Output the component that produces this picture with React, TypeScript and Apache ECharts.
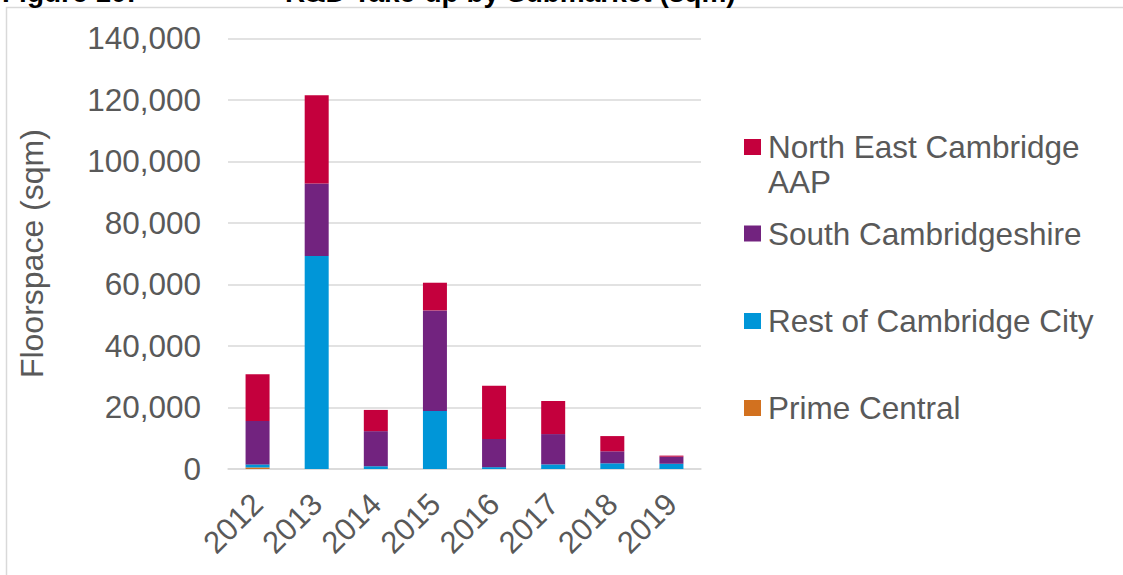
import React, { useEffect, useRef } from "react";
import * as echarts from "echarts";

const years = ["2012", "2013", "2014", "2015", "2016", "2017", "2018", "2019"];
const primeCentral = [500, 0, 0, 0, 0, 0, 0, 0];
const restOfCity = [1000, 69200, 900, 18850, 600, 1500, 1850, 1700];
const southCambs = [14100, 23600, 11400, 32700, 9150, 9850, 3900, 2300];
const northEast = [15200, 28700, 6900, 9000, 17300, 10750, 4950, 350];
const yTicks = { min: 0, max: 140000, interval: 20000 };

const FONT = "'Liberation Sans', Arial, sans-serif";
const GREY = "#595959";

export default function App() {
  const ref = useRef<HTMLDivElement>(null);
  useEffect(() => {
    if (!ref.current) return;
    const chart = echarts.init(ref.current, undefined, { renderer: "svg" });
    const legendBase = (name: string, top: number) => ({
      data: [name],
      left: 744,
      top,
      orient: "vertical",
      icon: "rect",
      itemWidth: 17,
      itemHeight: 16,
      padding: 0,
      selectedMode: false,
      textStyle: { fontFamily: FONT, fontSize: 31.5, color: GREY, lineHeight: 30, padding: [0, 0, 0, 2] },
      formatter: (n: string) => (n === "North East Cambridge AAP" ? "North East Cambridge" : n),
    });
    chart.setOption({
      animation: false,
      backgroundColor: "#ffffff",
      grid: { left: 228, right: 422, top: 38.3, bottom: 106, containLabel: false },
      xAxis: {
        type: "category",
        data: years,
        axisLine: { lineStyle: { color: "#d9d9d9", width: 1.5 } },
        axisTick: { show: false },
        axisLabel: {
          rotate: 45,
          margin: 30,
          fontFamily: FONT,
          fontSize: 31,
          color: GREY,
          interval: 0,
        },
      },
      yAxis: {
        type: "value",
        min: yTicks.min,
        max: yTicks.max,
        interval: yTicks.interval,
        name: "Floorspace (sqm)",
        nameLocation: "middle",
        nameGap: 180,
        nameRotate: 90,
        nameTextStyle: { fontFamily: FONT, fontSize: 32, color: GREY },
        axisLine: { show: false },
        axisTick: { show: false },
        splitLine: { lineStyle: { color: "#d9d9d9", width: 1.5 } },
        axisLabel: {
          margin: 27,
          fontFamily: FONT,
          fontSize: 31.5,
          color: GREY,
          formatter: (v: number) => v.toLocaleString("en-US"),
        },
      },
      legend: [
        legendBase("North East Cambridge AAP", 131),
        legendBase("South Cambridgeshire", 217.5),
        legendBase("Rest of Cambridge City", 305),
        legendBase("Prime Central", 392),
      ],
      graphic: [
        {
          type: "rect",
          z: -10,
          shape: { x: 6.5, y: 7.5, width: 1300, height: 800 },
          style: { fill: "none", stroke: "#d9d9d9", lineWidth: 1.5 },
        },
        {
          type: "text",
          x: 2,
          y: 6,
          style: { text: "Figure 10:", font: `bold 28px ${FONT}`, fill: "#000", verticalAlign: "bottom" },
        },
        {
          type: "text",
          x: 285,
          y: 6,
          style: {
            text: "R&D Take-up by Submarket (sqm)",
            font: `bold 28px ${FONT}`,
            fill: "#000",
            verticalAlign: "bottom",
          },
        },
        {
          type: "text",
          x: 768,
          y: 181.5,
          style: { text: "AAP", font: `31.5px ${FONT}`, fill: GREY, verticalAlign: "middle" },
        },
      ],
      series: [
        { name: "Prime Central", type: "bar", stack: "t", data: primeCentral, barWidth: 24, itemStyle: { color: "#D2711F" } },
        { name: "Rest of Cambridge City", type: "bar", stack: "t", data: restOfCity, barWidth: 24, itemStyle: { color: "#0096D8" } },
        { name: "South Cambridgeshire", type: "bar", stack: "t", data: southCambs, barWidth: 24, itemStyle: { color: "#72237F" } },
        { name: "North East Cambridge AAP", type: "bar", stack: "t", data: northEast, barWidth: 24, itemStyle: { color: "#C4003D" } },
      ],
    });
    return () => chart.dispose();
  }, []);
  return (
    <div
      ref={ref}
      style={{ position: "fixed", left: 0, top: 0, width: 1123, height: 575 }}
    />
  );
}
